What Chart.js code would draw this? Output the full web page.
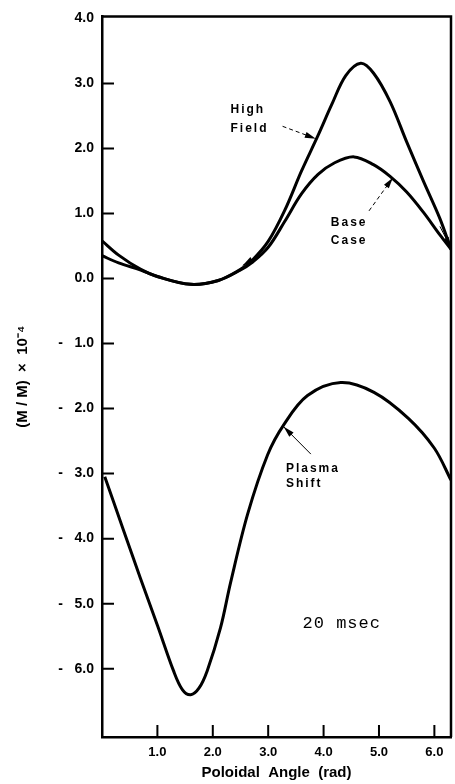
<!DOCTYPE html>
<html>
<head>
<meta charset="utf-8">
<script src="https://cdn.jsdelivr.net/npm/chart.js@4"></script>
<style>
  html, body { margin: 0; padding: 0; background: #fff; }
  #wrap { width: 455px; height: 784px; position: relative; }
</style>
</head>
<body>
<div id="wrap"><canvas id="chart"></canvas></div>
<script>
// poloidal angle (rad) and (M/M) x 10^-4
const highFieldX = [0, 0.3, 0.7, 1.0, 1.6, 2.1, 2.5, 2.7, 3.0, 3.3, 3.6, 3.9, 4.15, 4.4, 4.67, 4.9, 5.2, 5.5, 5.8, 6.1, 6.3];
const highFieldY = [0.58, 0.36, 0.14, 0.03, -0.09, -0.03, 0.14, 0.27, 0.57, 1.05, 1.65, 2.2, 2.68, 3.12, 3.31, 3.16, 2.72, 2.1, 1.5, 0.92, 0.45];

const baseCaseX = [0, 0.3, 0.7, 1.0, 1.6, 2.1, 2.5, 2.7, 3.0, 3.3, 3.6, 3.9, 4.2, 4.55, 4.9, 5.2, 5.5, 5.8, 6.1, 6.3];
const baseCaseY = [0.35, 0.24, 0.13, 0.03, -0.09, -0.03, 0.13, 0.24, 0.48, 0.88, 1.3, 1.6, 1.78, 1.87, 1.75, 1.57, 1.33, 1.02, 0.67, 0.45];

const plasmaX = [0.05, 0.38, 0.69, 1.0, 1.29, 1.45, 1.6, 1.75, 1.9, 2.14, 2.32, 2.63, 2.99, 3.28, 3.71, 4.31, 4.91, 5.53, 6.0, 6.3];
const plasmaY = [-3.05, -3.85, -4.6, -5.33, -6.03, -6.32, -6.4, -6.3, -6.03, -5.37, -4.68, -3.62, -2.71, -2.25, -1.8, -1.6, -1.75, -2.15, -2.61, -3.1];

const xTicks = [1, 2, 3, 4, 5, 6];
const yTicks = [-6, -5, -4, -3, -2, -1, 0, 1, 2, 3, 4];

const FONT = "'Liberation Sans', Arial, sans-serif";

function pts(xs, ys) {
    return xs.map((x, i) => ({ x: x, y: ys[i] }));
}

function series(label, xs, ys) {
    return {
        label: label,
        data: pts(xs, ys),
        borderColor: "#000",
        borderWidth: 3,
        pointRadius: 0,
        fill: false,
        tension: 0.35
    };
}

// inward ticks, box, labels and arrows
const decor = {
    id: "decor",
    afterDatasetsDraw(c) {
        const ctx = c.ctx;
        const xs = c.scales.x, ys = c.scales.y;
        const a = c.chartArea;
        const X = v => xs.getPixelForValue(v);
        const Y = v => ys.getPixelForValue(v);

        ctx.save();
        ctx.strokeStyle = "#000";
        ctx.lineWidth = 2.5;
        ctx.beginPath();
        ctx.moveTo(a.left, a.top);
        ctx.lineTo(a.right, a.top);
        ctx.lineTo(a.right, a.bottom);
        ctx.stroke();

        ctx.lineWidth = 2;
        ctx.beginPath();
        yTicks.forEach(t => {
            if (t === 4) return;
            ctx.moveTo(a.left, Y(t));
            ctx.lineTo(a.left + 12, Y(t));
        });
        xTicks.forEach(t => {
            ctx.moveTo(X(t), a.bottom);
            ctx.lineTo(X(t), a.bottom - 12);
        });
        ctx.stroke();

        // text labels
        ctx.fillStyle = "#000";
        ctx.font = "bold 12px " + FONT;
        ctx.letterSpacing = "2px";
        ctx.textBaseline = "middle";
        ctx.textAlign = "left";
        ctx.fillText("High", X(2.32), Y(2.6));
        ctx.fillText("Field", X(2.32), Y(2.31));
        ctx.fillText("Base", X(4.13), Y(0.86));
        ctx.fillText("Case", X(4.13), Y(0.58));
        ctx.fillText("Plasma", X(3.32), Y(-2.92));
        ctx.fillText("Shift", X(3.32), Y(-3.16));
        ctx.letterSpacing = "1px";
        ctx.font = "17px 'Liberation Mono', 'DejaVu Sans Mono', monospace";
        ctx.fillText("20 msec", X(3.62), Y(-5.3));

        // arrows: tail, tip in data units
        function arrow(x0, y0, x1, y1, dashed) {
            const px0 = X(x0), py0 = Y(y0), px1 = X(x1), py1 = Y(y1);
            const ang = Math.atan2(py1 - py0, px1 - px0);
            ctx.lineWidth = 1;
            ctx.setLineDash(dashed ? [4, 3] : []);
            ctx.beginPath();
            ctx.moveTo(px0, py0);
            ctx.lineTo(px1, py1);
            ctx.stroke();
            ctx.setLineDash([]);
            ctx.beginPath();
            ctx.moveTo(px1, py1);
            ctx.lineTo(px1 - 11 * Math.cos(ang) + 3 * Math.sin(ang), py1 - 11 * Math.sin(ang) - 3 * Math.cos(ang));
            ctx.lineTo(px1 - 11 * Math.cos(ang) - 3 * Math.sin(ang), py1 - 11 * Math.sin(ang) + 3 * Math.cos(ang));
            ctx.closePath();
            ctx.fill();
        }
        arrow(3.26, 2.34, 3.86, 2.15, true);
        arrow(4.82, 1.04, 5.25, 1.55, true);
        arrow(3.77, -2.7, 3.28, -2.28, false);
        arrow(2.8, 0.34, 2.54, 0.2, false);
        arrow(6.1, 0.8, 6.3, 0.47, false);
        ctx.restore();
    }
};

new Chart(document.getElementById("chart"), {
    type: "line",
    data: {
        datasets: [
            series("High Field", highFieldX, highFieldY),
            series("Base Case", baseCaseX, baseCaseY),
            series("Plasma Shift", plasmaX, plasmaY)
        ]
    },
    options: {
        responsive: true,
        maintainAspectRatio: false,
        animation: false,
        layout: { padding: { top: 13, right: 4, left: 0, bottom: 0 } },
        plugins: { legend: { display: false }, tooltip: { enabled: false } },
        scales: {
            x: {
                type: "linear",
                min: 0,
                max: 6.3,
                afterBuildTicks: s => { s.ticks = xTicks.map(v => ({ value: v })); },
                afterFit: s => { s.height = 47; },
                grid: { drawOnChartArea: false, drawTicks: false },
                border: { display: true, color: "#000", width: 2.5 },
                ticks: {
                    color: "#000",
                    padding: 8,
                    maxRotation: 0,
                    font: { family: FONT, size: 13, weight: "bold" },
                    callback: v => v.toFixed(1)
                },
                title: {
                    display: true,
                    text: "Poloidal  Angle  (rad)",
                    color: "#000",
                    padding: { top: 0, bottom: 2 },
                    font: { family: FONT, size: 15, weight: "bold" }
                }
            },
            y: {
                min: -7.05,
                max: 4.03,
                afterBuildTicks: s => { s.ticks = yTicks.map(v => ({ value: v })); },
                afterFit: s => { s.width = 102; },
                grid: { drawOnChartArea: false, drawTicks: false },
                border: { display: true, color: "#000", width: 2.5 },
                ticks: {
                    color: "#000",
                    padding: 8,
                    font: { family: FONT, size: 14, weight: "bold" },
                    callback: v => v < 0 ? "-   " + Math.abs(v).toFixed(1) : v.toFixed(1)
                },
                title: {
                    display: true,
                    text: "(M / M)  \u00d7  10\u207b\u2074",
                    color: "#000",
                    padding: { top: 14, bottom: 0 },
                    font: { family: FONT, size: 15, weight: "bold" }
                }
            }
        }
    },
    plugins: [decor]
});
</script>
</body>
</html>
